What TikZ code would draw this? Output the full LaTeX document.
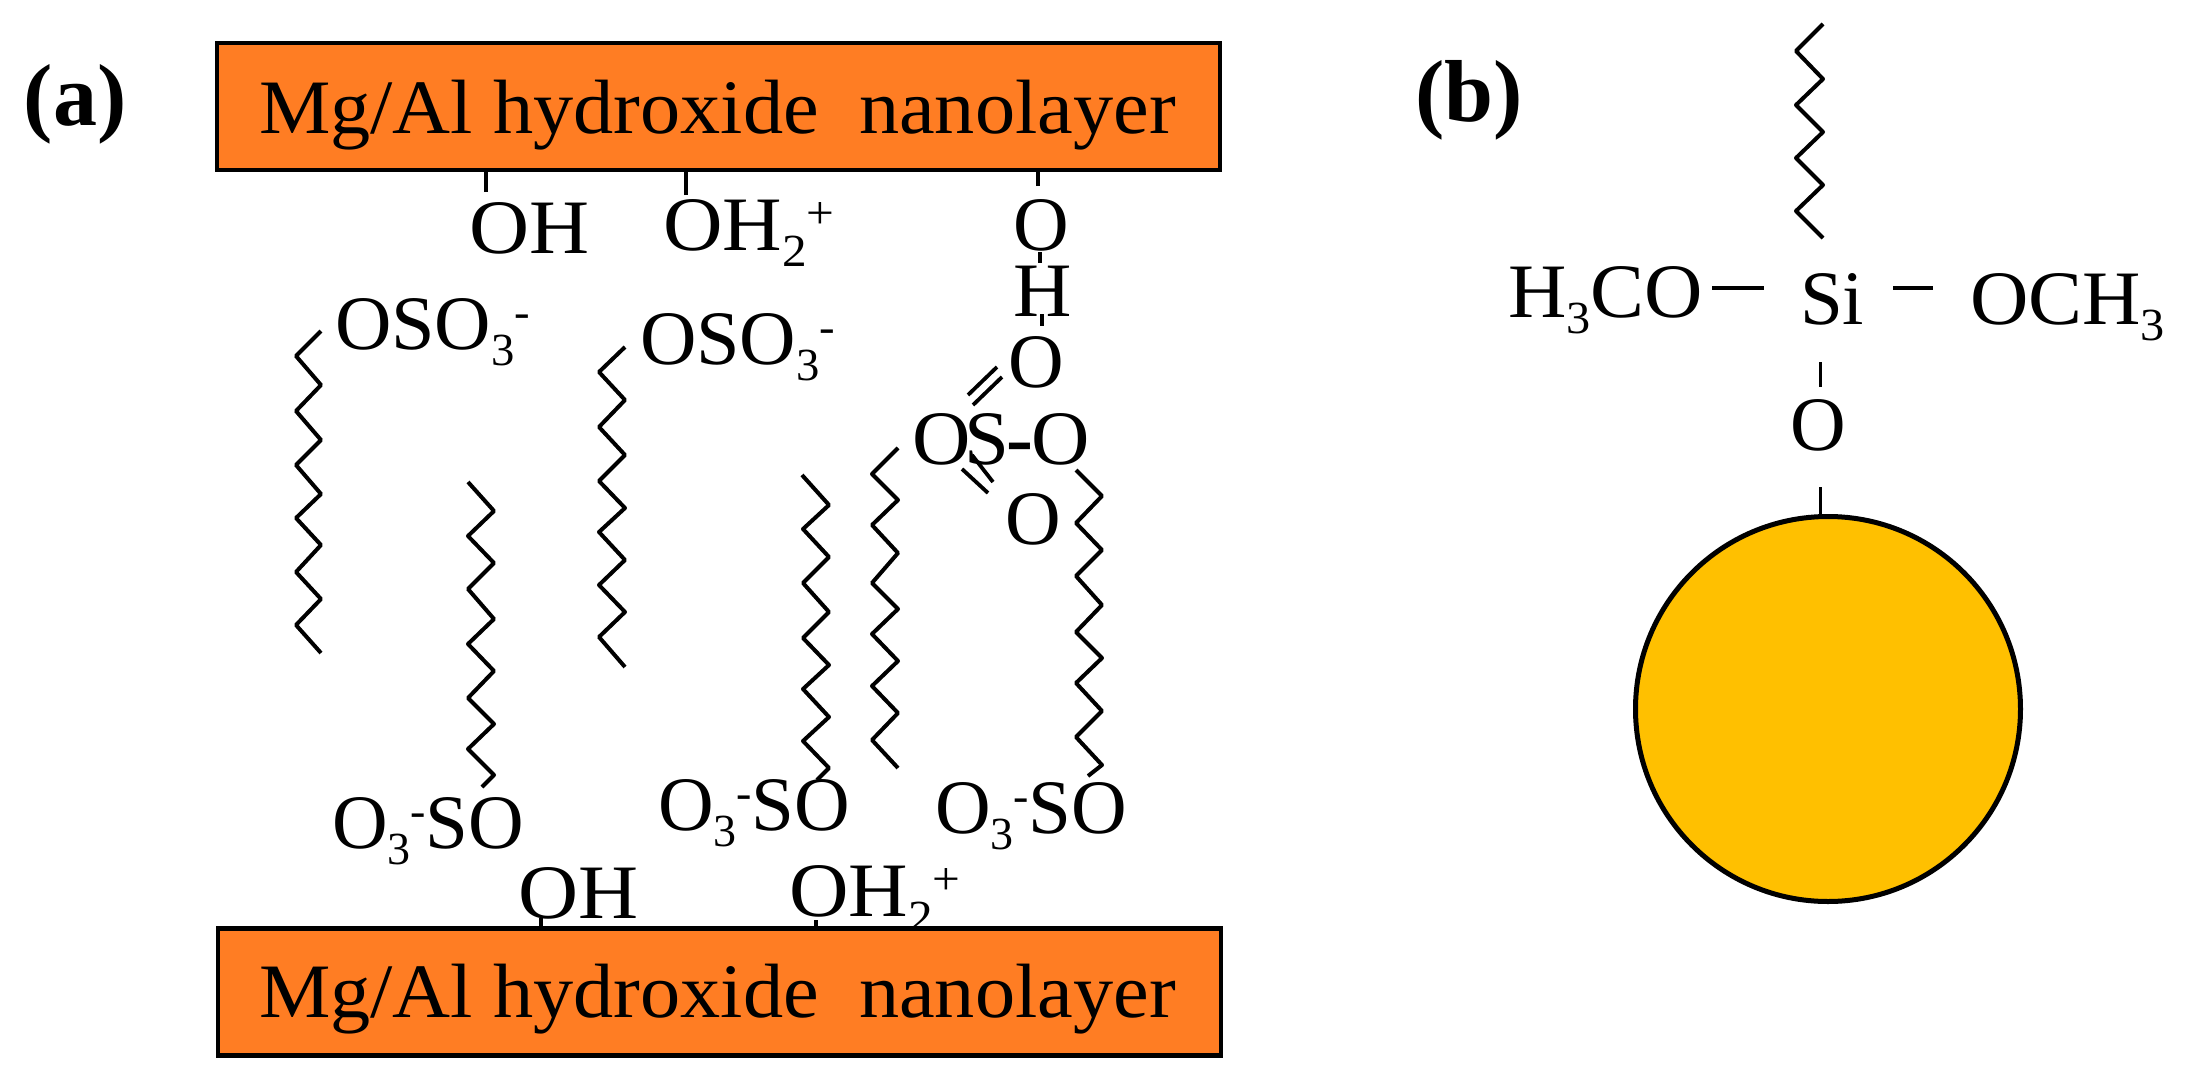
\documentclass[tikz,border=0pt]{standalone}
\usepackage{fontspec}
\setmainfont{Liberation Serif}
\newcommand{\sbs}[1]{\raisebox{-8pt}{\fontsize{23}{23}\selectfont #1}}
\newcommand{\sps}[1]{\raisebox{11pt}{\fontsize{23}{23}\selectfont #1}}
\newcommand{\stretchtxt}[2]{\scalebox{#1}[1]{#2}}
\definecolor{layerorange}{RGB}{255,125,35}
\definecolor{sphereyellow}{RGB}{255,192,0}
\tikzset{
  chem/.style={anchor=base west,inner sep=0pt,outer sep=0pt,font=\fontsize{38.5}{40}\selectfont},
  panel/.style={anchor=base west,inner sep=0pt,outer sep=0pt,font=\fontsize{44}{46}\selectfont\bfseries},
  layerbox/.style={draw=black,line width=2.2pt,fill=layerorange,minimum width=501.5pt,minimum height=63.5pt,inner sep=0pt},
  chain/.style={draw=black,line width=2pt,line join=round},
  bond/.style={draw=black,line width=1.9pt},
  sphere/.style={circle,draw=black,line width=2.5pt,fill=sphereyellow,minimum size=192.5pt,inner sep=0pt}
}
\begin{document}
\begin{tikzpicture}[x=0.5pt,y=-0.5pt]
\useasboundingbox (0,0) rectangle (2192,1082);
\fill[white] (0,0) rectangle (2192,1082);

% panel labels
\node[panel] (la) at (24,125) {(a)};
\node[panel] (lb) at (1415,121) {(b)};

% top layer
\node[layerbox] (top) at (718.5,106.5) {};
\node[chem] (toplabel) at (259,133) {\stretchtxt{1.043}{Mg/Al hydroxide\hspace{0.25em} nanolayer}};

% top groups
\node[chem] (oh1) at (469,253) {\stretchtxt{1.08}{OH}};
\node[chem] (oh2) at (663,250) {\stretchtxt{1.07}{OH\sbs{2}\sps{+}}};
\node[chem] (o1) at (1013,250) {O};
\node[chem] (h1) at (1013,316) {\stretchtxt{1.05}{H}};
\node[chem] (o2) at (1008,387) {O};
\node[chem] (os) at (912,464) {\stretchtxt{1.05}{O\hspace{-3pt}S\hspace{-1pt}{\bfseries -}\hspace{-1pt}O}};
\node[chem] (o3) at (1005,544) {O};

\coordinate (s1) at (486,192);
\coordinate (s2) at (686,195);
\coordinate (s3) at (1038,186);
\draw[bond] (s1) -- (s1 |- top.south);
\draw[bond] (s2) -- (s2 |- top.south);
\draw[bond] (s3) -- (s3 |- top.south);
\coordinate (b1a) at (1040,252); \coordinate (b1b) at (1040,263);
\coordinate (b2a) at (1042,314); \coordinate (b2b) at (1042,326);
\draw[bond] (b1a) -- (b1b);
\draw[bond] (b2a) -- (b2b);
\coordinate (d1a) at (968,395); \coordinate (d1b) at (997,367);
\coordinate (d2a) at (973,405); \coordinate (d2b) at (1002,377);
\coordinate (d3a) at (962,469); \coordinate (d3b) at (988,493);
\coordinate (d4a) at (972,455); \coordinate (d4b) at (993,482);
\draw[bond] (d1a) -- (d1b);
\draw[bond] (d2a) -- (d2b);
\draw[bond] (d3a) -- (d3b);
\draw[bond] (d4a) -- (d4b);

% sulfate labels
\node[chem] (os1) at (335,349) {\stretchtxt{1.015}{OSO\sbs{3}\sps{-}}};
\node[chem] (os2) at (640,364) {\stretchtxt{1.015}{OSO\sbs{3}\sps{-}}};
\node[chem] (so1) at (332,848) {O\sbs{3}\sps{-}SO};
\node[chem] (so2) at (658,830) {O\sbs{3}\sps{-}SO};
\node[chem] (so3) at (935,833) {O\sbs{3}\sps{-}SO};

% alkyl chains
\draw[chain] (321,331)--(296,356)--(321,385)--(296,411)--(321,440)--(296,465)--(321,494)--(296,518)--(321,545)--(296,572)--(321,599)--(296,625)--(321,653);
\draw[chain] (625,347)--(599,372)--(625,400)--(599,427)--(625,455)--(599,481)--(625,508)--(599,532)--(625,560)--(599,585)--(625,612)--(599,637)--(625,667);
\draw[chain] (468,482)--(494,511)--(468,536)--(494,563)--(468,589)--(494,619)--(468,644)--(494,671)--(468,698)--(494,724)--(468,749)--(494,775)--(482,787);
\draw[chain] (802,475)--(829,505)--(803,529)--(829,557)--(803,583)--(829,612)--(803,638)--(829,665)--(803,689)--(829,717)--(803,741)--(829,768)--(817,780);
\draw[chain] (898,448)--(872,474)--(898,500)--(872,525)--(898,553)--(872,583)--(898,609)--(872,634)--(898,661)--(872,686)--(898,713)--(872,740)--(898,768);
\draw[chain] (1076,470)--(1102,496)--(1076,523)--(1102,550)--(1076,576)--(1102,605)--(1076,632)--(1102,658)--(1076,683)--(1102,711)--(1076,737)--(1102,765)--(1088,776);

% bottom groups (the layer is drawn over them)
\node[chem] (oh3) at (518,918) {\stretchtxt{1.08}{OH}};
\node[chem] (oh4) at (789,916) {\stretchtxt{1.07}{OH\sbs{2}\sps{+}}};
\node[layerbox] (bottom) at (719.5,992) {};
\node[chem] (botlabel) at (259,1017) {\stretchtxt{1.043}{Mg/Al hydroxide\hspace{0.25em} nanolayer}};
\coordinate (s4) at (541,918);
\coordinate (s5) at (816,920);
\draw[bond] (s4) -- (s4 |- bottom.north);
\draw[bond] (s5) -- (s5 |- bottom.north);

% panel b
\draw[chain] (1823,24)--(1796,51)--(1823,79)--(1796,105)--(1823,132)--(1796,158)--(1823,185)--(1796,211)--(1823,238);
\node[chem] (hco) at (1508,317) {\stretchtxt{1.05}{H\sbs{3}CO}};
\node[chem] (si) at (1800,324) {Si};
\node[chem] (och) at (1970,324) {\stretchtxt{1.05}{OCH\sbs{3}}};
\node[chem] (ob) at (1790,450) {O};
\node[sphere] (np) at (1828,709) {};
\coordinate (e1) at (1712,288); \coordinate (e2) at (1764,288);
\coordinate (e3) at (1893,288); \coordinate (e4) at (1933,288);
\coordinate (e5) at (1820.5,362); \coordinate (e6) at (1820.5,387);
\coordinate (e7) at (1820.5,487);
\draw[bond] (e1) -- (e2);
\draw[bond] (e3) -- (e4);
\draw[bond] (e5) -- (e6);
\draw[bond] (e7) -- (e7 |- np.north);
\end{tikzpicture}
\end{document}
